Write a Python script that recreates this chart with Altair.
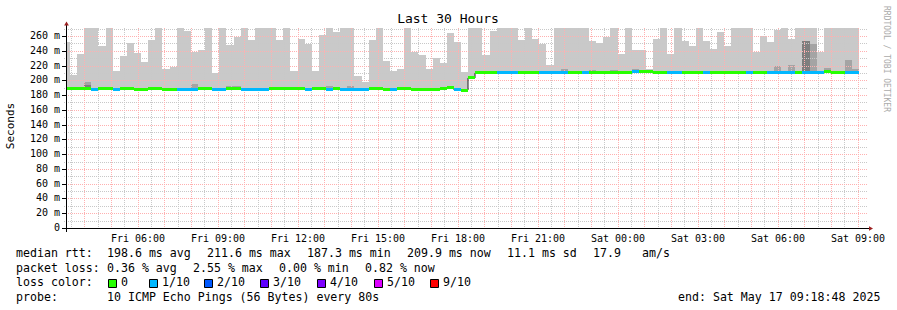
import altair as alt
import pandas as pd

# ---------------- data ----------------
# time axis in hours since Fri 00:00
T_START = 3 + 18 / 60 + 48 / 3600          # Fri 03:18:48
T_END = T_START + 30                       # Sat 09:18:48
FIRST_EDGE = T_START + 0.15                # first full 960 s bin starts here
BIN_H = 960 / 3600

# upper edge of the smoke (max ping) per bin, ms
hi = [252, 207, 235.6, 271, 271, 246.4, 271, 212.6, 232.9, 250.5,
      237, 224.8, 254.6, 271, 215.3, 218, 271, 266.7, 238.3, 241,
      271, 209.9, 271, 247.8, 258.6, 271, 254.6, 271, 271, 271,
      254.6, 271, 212.6, 255.9, 249.1, 212.6, 261.3, 271, 265.4, 271,
      271, 205.8, 197.7, 254.6, 271, 226.1, 212.6, 215.3, 271, 238.3,
      234.2, 215.3, 230.2, 223.4, 264, 252, 211.2, 271, 271, 234.2,
      266.7, 271, 271, 271, 254.6, 271, 255.9, 249.1, 220.7, 271,
      271, 271, 271, 271, 253, 250.5, 258.6, 271, 235.6, 271,
      241, 241, 215.3, 255.9, 271, 235.6, 271, 253.2, 246.4, 271,
      253.2, 242.4, 265.4, 246.4, 271, 271, 271, 238.3, 260, 252,
      268, 271, 255.9, 271, 271, 271, 238.3, 271, 271, 271,
      271, 271]

# median rtt per bin, ms
med = [188.5, 188.5, 188.5, 189.3, 187.3, 188.5, 188.5, 187.3, 188.5, 188.5,
       188, 188, 188.5, 188.5, 188, 188, 187.5, 187.5, 188, 188.5,
       188.5, 187.5, 187.5, 188.5, 188.5, 187.5, 187.5, 187.5, 187.5, 188.5,
       188.5, 188.5, 188.5, 188.5, 187.5, 188.5, 188.5, 187.5, 188.5, 187.5,
       187.5, 187.5, 187.5, 188.5, 188.5, 188, 187.5, 188.5, 188.5, 188,
       188, 188, 188, 188.5, 189.8, 187.5, 186.5, 203.5, 210.5, 210.5,
       210.5, 210.5, 210.5, 210.5, 210.5, 210.5, 210.5, 210.5, 210.5, 210.5,
       210.5, 210.5, 210.5, 210.5, 210.5, 210.5, 210.5, 210.5, 210.5, 210.5,
       211.5, 211.5, 211.5, 210.5, 210.5, 210, 210, 210.5, 210.5, 210.5,
       210.5, 210.5, 210.5, 210.5, 210.5, 210.5, 210.5, 210.5, 210.5, 210,
       210, 210, 210, 210.5, 210, 210, 210, 212, 210.5, 210.5,
       210, 210]

# lost pings (out of 10) per bin
loss = [0, 0, 0, 0, 1, 0, 0, 1, 0, 0,
        0, 0, 0, 0, 0, 0, 1, 1, 1, 0,
        0, 1, 1, 0, 0, 1, 1, 1, 1, 0,
        0, 0, 0, 0, 1, 0, 0, 1, 0, 1,
        1, 1, 1, 0, 0, 0, 1, 0, 0, 0,
        0, 0, 0, 0, 0, 1, 0, 0, 0, 0,
        0, 1, 1, 1, 0, 0, 0, 1, 1, 1,
        1, 0, 0, 1, 0, 0, 0, 0, 0, 0,
        1, 0, 0, 0, 0, 1, 1, 0, 0, 0,
        1, 0, 0, 0, 0, 0, 1, 0, 0, 1,
        1, 1, 1, 0, 1, 1, 1, 0, 0, 0,
        1, 1]

# inner smoke bands that show (bin index -> upper edge, ms)
mid_band = {3: 198, 18: 195, 23: 192, 24: 192, 37: 192, 40: 192, 54: 192,
            70: 215.3, 74: 214, 77: 214, 80: 215.3, 100: 219, 102: 220.7,
            104: 253, 105: 249, 107: 217, 110: 227.5, 111: 215.3}
dark_band = {3: 193, 104: 253}

loss_levels = ["0", "1/10", "2/10", "3/10", "4/10", "5/10", "9/10"]
loss_colors = ["#26ff00", "#00b8ff", "#0059ff", "#5e00ff", "#7e00ff", "#dd00ff", "#ff0000"]

y_ticks = list(range(0, 261, 20))
y_labels = ["0"] + [f"{v} m" for v in y_ticks[1:]]
x_ticks = [6, 9, 12, 15, 18, 21, 24, 27, 30, 33]
x_labels = ["Fri 06:00", "Fri 09:00", "Fri 12:00", "Fri 15:00", "Fri 18:00",
            "Fri 21:00", "Sat 00:00", "Sat 03:00", "Sat 06:00", "Sat 09:00"]

# ---------------- tables ----------------
rows = []
for i in range(len(hi)):
    s = FIRST_EDGE + (i - 1) * BIN_H
    e = s + BIN_H
    rows.append({"s": max(s, T_START), "e": e, "hi": hi[i], "med": med[i],
                 "loss": loss_levels[loss[i]],
                 "mid": mid_band.get(i), "dark": dark_band.get(i)})
bins = pd.DataFrame(rows)
line_df = pd.concat([bins[["s", "med"]],
                     pd.DataFrame([{"s": bins["e"].iloc[-1], "med": med[-1]}])],
                    ignore_index=True)

vmajor = pd.DataFrame({"h": [h for h in range(4, 34)]})
vminor = pd.DataFrame({"h": [h + 0.5 for h in range(3, 33)]})
hmajor = pd.DataFrame({"v": list(range(20, 261, 20))})
hminor = pd.DataFrame({"v": list(range(10, 271, 20))})
xlab_df = pd.DataFrame({"h": x_ticks, "lab": x_labels})
ylab_df = pd.DataFrame({"v": y_ticks, "lab": y_labels})

xs = alt.Scale(domain=[T_START, T_END], nice=False, zero=False, round=True)
ys = alt.Scale(domain=[0, 270.8], nice=False, zero=False, round=True)

FONT = "DejaVu Sans Mono"
X = lambda f: alt.X(f, scale=xs, axis=None)
Y = lambda f: alt.Y(f, scale=ys, axis=None)

base = alt.Chart(bins)

smoke = base.mark_rect(color="#c9c9c9", clip=True).encode(
    x=X("s:Q"), x2="e:Q", y=Y("med:Q"), y2="hi:Q")
smoke_mid = base.transform_filter("datum.mid != null").mark_rect(color="#a4a4a4", clip=True).encode(
    x=X("s:Q"), x2="e:Q", y=Y("med:Q"), y2="mid:Q")
smoke_dark = base.transform_filter("datum.dark != null").mark_rect(color="#7e7e7e", clip=True).encode(
    x=X("s:Q"), x2="e:Q", y=Y("med:Q"), y2="dark:Q")


def vgrid(df, color):
    return alt.Chart(df).mark_rule(color=color, strokeDash=[1, 1], xOffset=0.5).encode(
        x=X("h:Q"), y=alt.value(0), y2=alt.value(202))


def hgrid(df, color):
    return alt.Chart(df).mark_rule(color=color, strokeDash=[1, 1], yOffset=0.5).encode(
        y=Y("v:Q"), x=alt.value(-2), x2=alt.value(802))


grid_minor_v = vgrid(vminor, "#c8c8c8")
grid_minor_h = hgrid(hminor, "#c8c8c8")
grid_major_v = vgrid(vmajor, "#ffb0b0")
grid_major_h = hgrid(hmajor, "#ffb0b0")

med_line = alt.Chart(line_df).mark_line(color="#202020", strokeWidth=1, interpolate="step-after", clip=True).encode(
    x=X("s:Q"), y=Y("med:Q"), order="s:Q")

med_band = base.transform_calculate(lo="datum.med - 2", up="datum.med + 2").mark_rect(clip=True).encode(
    x=X("s:Q"), x2="e:Q", y=Y("lo:Q"), y2="up:Q",
    color=alt.Color("loss:N", scale=alt.Scale(domain=loss_levels, range=loss_colors), legend=None))

xlabels = alt.Chart(xlab_df).mark_text(font=FONT, fontSize=10, color="black", align="center",
                                       baseline="middle").encode(
    x=X("h:Q"), y=alt.value(210.5), text="lab:N")
ylabels = alt.Chart(ylab_df).mark_text(font=FONT, fontSize=10, color="black", align="right",
                                       baseline="middle").encode(
    y=Y("v:Q"), x=alt.value(-6), text="lab:N")
yticks = alt.Chart(ylab_df).mark_rule(color="black", yOffset=0.5).encode(
    y=Y("v:Q"), x=alt.value(-4), x2=alt.value(0))

one = alt.Data(values=[{"a": 1}])
x_line = alt.Chart(one).mark_rule(color="black", strokeWidth=1).encode(
    x=alt.value(-4), x2=alt.value(803), y=alt.value(200.5))
y_line = alt.Chart(one).mark_rule(color="black", strokeWidth=1).encode(
    x=alt.value(0.5), x2=alt.value(0.5), y=alt.value(-5), y2=alt.value(204))
arrow_r = alt.Chart(one).mark_point(shape="triangle-right", filled=True, color="#9c2020", size=22, opacity=1).encode(
    x=alt.value(805), y=alt.value(200.5))
arrow_u = alt.Chart(one).mark_point(shape="triangle-up", filled=True, color="#9c2020", size=22, opacity=1).encode(
    x=alt.value(0.5), y=alt.value(-4.5))

# ---------------- texts (layout, plot-relative pixel positions) ----------------
OX, OY = 66, 28
legend_items = [
    ("median rtt:", 16, 254), ("198.6 ms avg", 107, 254), ("211.6 ms max", 207, 254),
    ("187.3 ms min", 307, 254), ("209.9 ms now", 407, 254), ("11.1 ms sd", 507, 254),
    ("17.9", 593, 254), ("am/s", 642, 254),
    ("packet loss:", 16, 268.5), ("0.36 % avg", 107, 268.5), ("2.55 % max", 193, 268.5),
    ("0.00 % min", 279, 268.5), ("0.82 % now", 365, 268.5),
    ("loss color:", 16, 283),
    ("probe:", 16, 297.5), ("10 ICMP Echo Pings (56 Bytes) every 80s", 107, 297.5),
    ("end: Sat May 17 09:18:48 2025", 678, 297.5),
]
box_x = [108, 149, 204, 260, 317, 374, 430]
for lab, bx in zip(loss_levels, box_x):
    legend_items.append((lab, bx + 13, 283))

txt_df = pd.DataFrame([{"t": t, "px": x - OX, "py": y - OY} for t, x, y in legend_items])
texts = alt.Chart(txt_df).mark_text(align="left", baseline="middle", font=FONT, fontSize=11.6, color="black").encode(
    x=alt.X("px:Q", scale=None, axis=None), y=alt.Y("py:Q", scale=None, axis=None), text="t:N")

box_df = pd.DataFrame([{"x0": bx - OX + 0.5, "x1": bx - OX + 8.5, "y0": 279.5 - OY, "y1": 287.5 - OY, "c": c}
                       for bx, c in zip(box_x, loss_colors)])
boxes = alt.Chart(box_df).mark_rect(stroke="black", strokeWidth=1).encode(
    x=alt.X("x0:Q", scale=None, axis=None), x2="x1:Q",
    y=alt.Y("y0:Q", scale=None, axis=None), y2="y1:Q",
    fill=alt.Fill("c:N", scale=None))

title = alt.Chart(one).mark_text(text="Last 30 Hours", font=FONT, fontSize=13, color="black",
                                 align="center", baseline="middle").encode(
    x=alt.value(448 - OX), y=alt.value(19 - OY))
ylab = alt.Chart(one).mark_text(text="Seconds", font=FONT, fontSize=11, color="black", angle=270,
                                align="center", baseline="middle").encode(
    x=alt.value(11 - OX), y=alt.value(126 - OY))
wm = alt.Chart(one).mark_text(text="RRDTOOL / TOBI OETIKER", font=FONT, fontSize=8, color="#aaaaaa", angle=90,
                              align="center", baseline="middle").encode(
    x=alt.value(886 - OX), y=alt.value(59 - OY))

chart = alt.layer(
    smoke, smoke_mid, smoke_dark,
    grid_minor_v, grid_minor_h, grid_major_v, grid_major_h,
    med_line, med_band, xlabels, ylabels, yticks,
    x_line, y_line, arrow_r, arrow_u, texts, boxes, title, ylab, wm
).properties(
    width=800, height=200, autosize="none",
    padding={"left": OX, "top": OY, "right": 31, "bottom": 82},
    background="white",
).configure_view(stroke=None)

chart.save("out.html", embed_options={"renderer": "svg", "actions": False})
